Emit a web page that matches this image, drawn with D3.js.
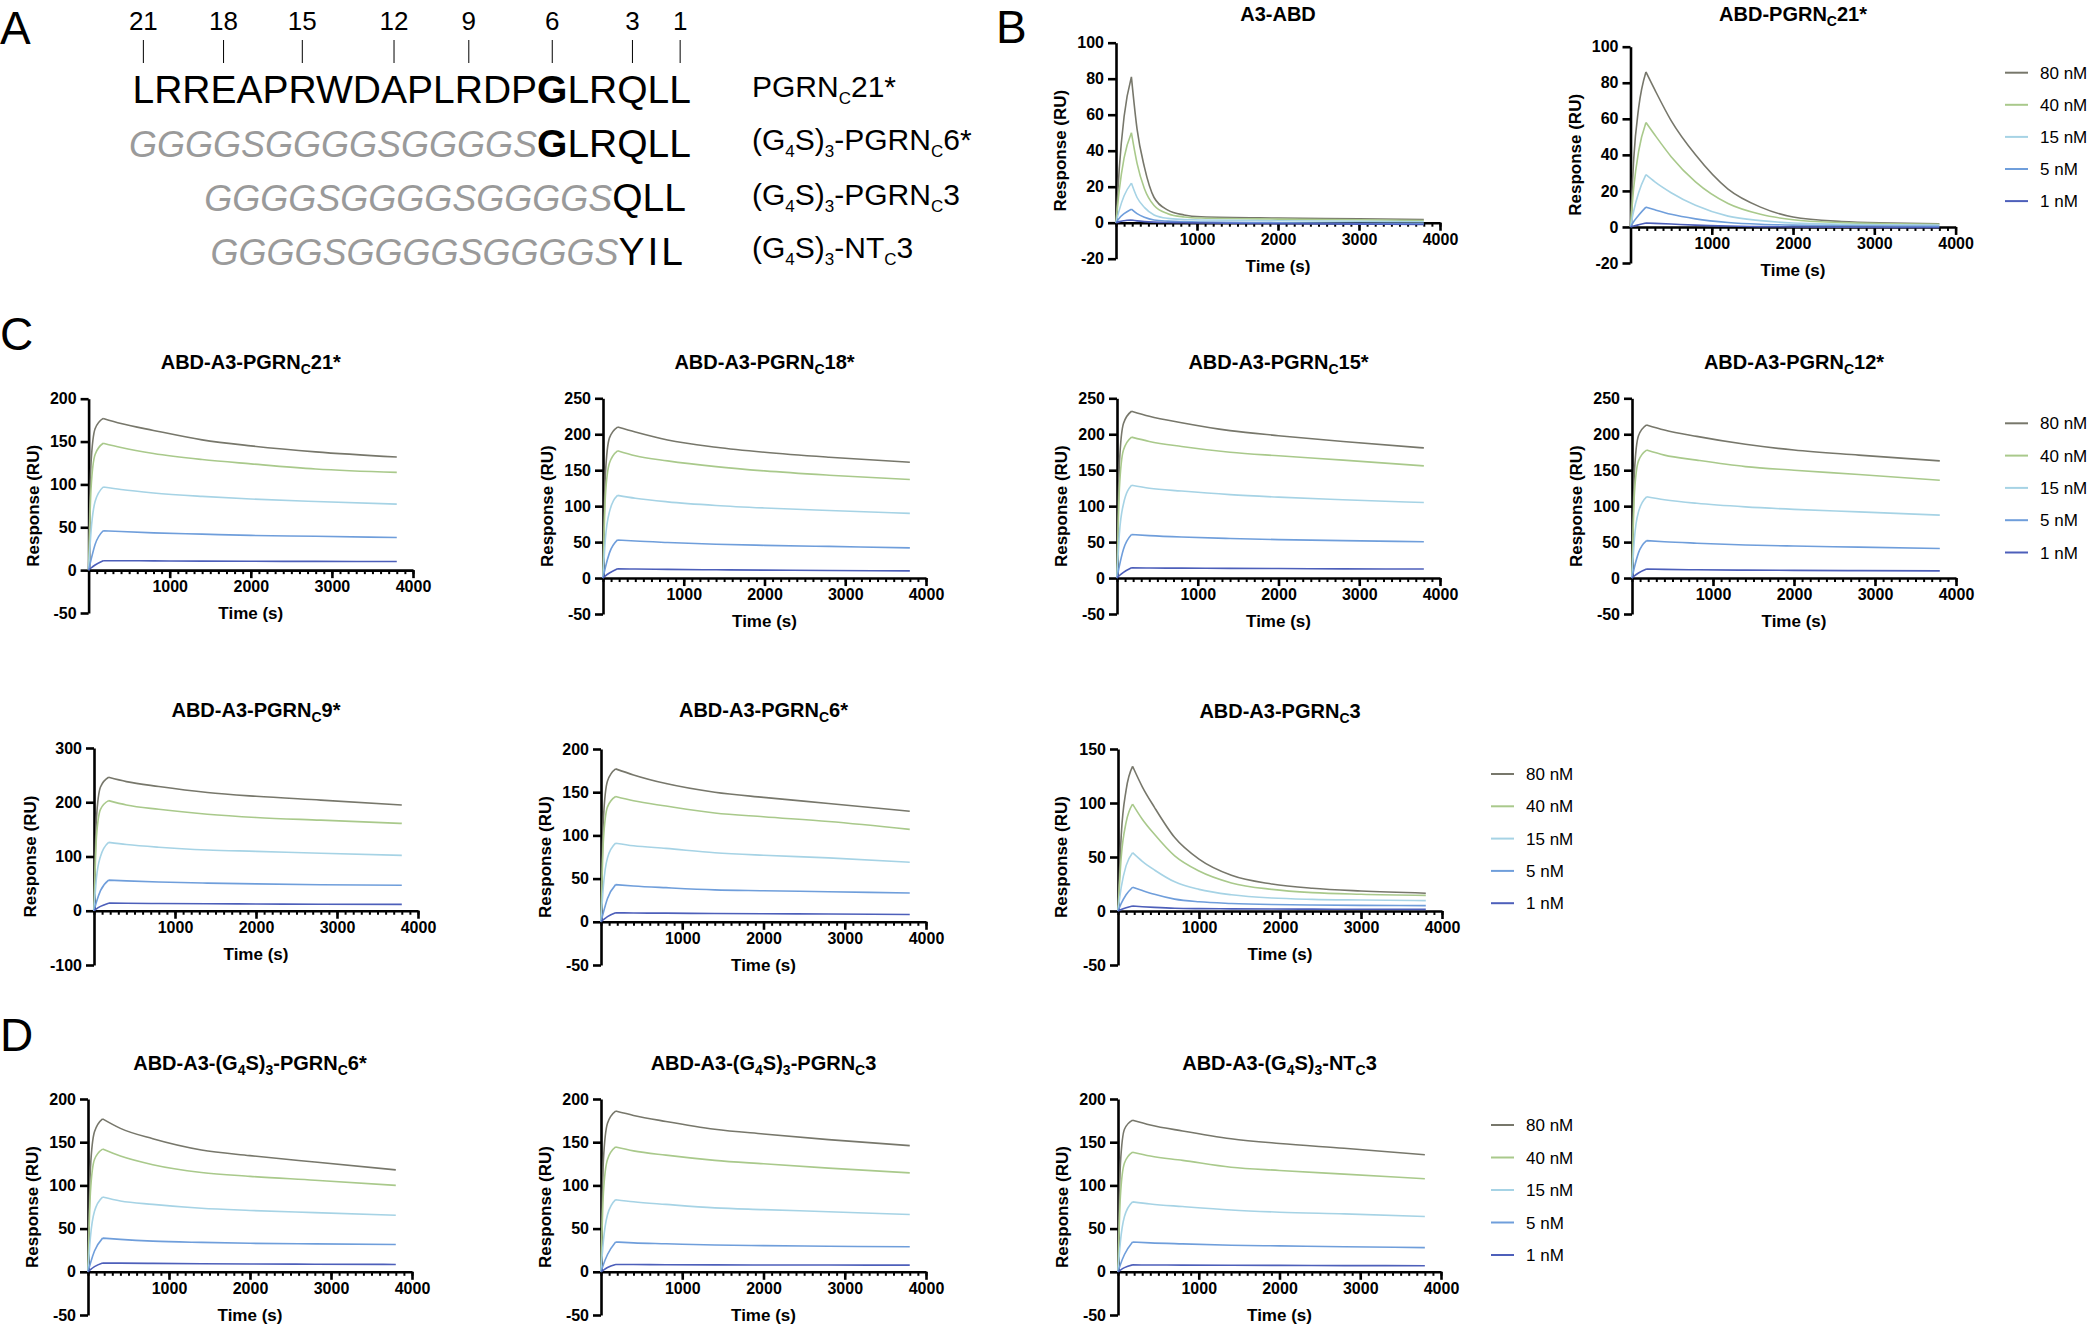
<!DOCTYPE html>
<html><head><meta charset="utf-8">
<script src="https://cdn.jsdelivr.net/npm/d3@7"></script>
<style>
body{margin:0;background:#fff}
svg{display:block}
text{font-family:"Liberation Sans",Arial,Helvetica,sans-serif}
</style>
</head><body>
<svg id="fig" width="2089" height="1326"></svg>
<script>
// ---------------- DATA ----------------
const concentrations = ["80 nM", "40 nM", "15 nM", "5 nM", "1 nM"];

// panel A
const residueNumbers = [21, 18, 15, 12, 9, 6, 3, 1];
const seqRow1 = [["LRREAPRWDAPLRDP", "n"], ["G", "b"], ["LRQLL", "n"]];
const seqRow2 = [["GGGGSGGGGSGGGGS", "g"], ["G", "b"], ["LRQLL", "n"]];
const seqRow3 = [["GGGGSGGGGSGGGGS", "g"], ["QLL", "n"]];
const seqRow4 = [["GGGGSGGGGSGGGGS", "g"], ["YIL", "y"]];
const seqLabel1 = [["PGRN", 0], ["C", 1], ["21*", 0]];
const seqLabel2 = [["(G", 0], ["4", 1], ["S)", 0], ["3", 1], ["-PGRN", 0], ["C", 1], ["6*", 0]];
const seqLabel3 = [["(G", 0], ["4", 1], ["S)", 0], ["3", 1], ["-PGRN", 0], ["C", 1], ["3", 0]];
const seqLabel4 = [["(G", 0], ["4", 1], ["S)", 0], ["3", 1], ["-NT", 0], ["C", 1], ["3", 0]];

// time grids (s)
const timesB1 = [0, 40, 100, 190, 260, 350, 470, 640, 840, 1050, 2000, 3000, 3800];
const timesB2 = [0, 40, 100, 190, 300, 500, 800, 1200, 1600, 2000, 2600, 3200, 3800];
const timesC7 = [0, 40, 100, 180, 300, 450, 700, 1000, 1400, 1900, 2400, 3000, 3800];
const timesSlow = [0, 30, 80, 180, 400, 800, 1400, 2000, 2800, 3800];

// responses (RU), rows = 80, 40, 15, 5, 1 nM
const respA3ABD = [
  [0, 30, 59, 81, 52, 31, 14, 7, 4.3, 3.3, 2.6, 2.2, 1.8],
  [0, 18, 36, 50, 33, 19, 9.5, 5, 3.2, 2.6, 2, 1.6, 1.2],
  [0, 7, 15, 22, 14, 8.5, 4.3, 2.4, 1.8, 1.5, 1.1, 0.8, 0.5],
  [0, 2.5, 5, 7.5, 5, 3, 1.5, 0.9, 0.6, 0.4, 0, -0.3, -0.5],
  [0, 0.6, 1.1, 1.5, 1, 0.6, 0.3, 0.1, 0, -0.2, -0.5, -0.8, -1]
];
const respABD_PGRN21 = [
  [0, 38, 66, 86, 76, 59, 40, 21, 11, 5.5, 3, 2.2, 1.8],
  [0, 22, 42, 58, 51, 39, 25, 13, 7, 4, 2.4, 1.8, 1.5],
  [0, 9, 19, 29, 25, 19, 12, 6, 3.5, 2.2, 1.5, 1.2, 1],
  [0, 3, 6.5, 11, 9.5, 7, 4.5, 2.5, 1.5, 1, 0.7, 0.5, 0.4],
  [0, 0.5, 1.2, 2.2, 2, 1.6, 1, 0.5, 0.2, 0, -0.2, -0.3, -0.3]
];
const respC21 = [
  [0, 125, 165, 177, 171, 163, 152, 145, 138, 132],
  [0, 95, 135, 148, 143, 136, 129, 124, 118, 114],
  [0, 45, 80, 97, 94, 90, 86, 83, 80, 77],
  [0, 12, 30, 46, 45, 43.5, 42, 40.5, 39.5, 38],
  [0, 2.5, 6, 11, 11, 10.8, 10.5, 10.3, 10.2, 10]
];
const respC18 = [
  [0, 145, 195, 210, 203, 192, 182, 175, 168, 161],
  [0, 115, 160, 177, 170, 163, 155, 149, 143, 137],
  [0, 55, 92, 115, 111, 106, 101, 97.5, 94, 90],
  [0, 15, 35, 53, 51.5, 49.5, 47, 45.5, 44, 42],
  [0, 3, 7, 13, 12.5, 12, 11.5, 11, 10.5, 10]
];
const respC15 = [
  [0, 160, 215, 232, 225, 216, 205, 198, 190, 181],
  [0, 125, 178, 196, 190, 183, 175, 170, 164, 156],
  [0, 62, 103, 129, 125, 121, 116, 112.5, 109, 105],
  [0, 17, 40, 60.5, 59, 57, 55, 53.5, 52, 50.5],
  [0, 3.5, 8, 14.4, 14, 13.8, 13.5, 13.2, 12.8, 12.5]
];
const respC12 = [
  [0, 148, 198, 213, 206, 197, 186, 178, 171, 163],
  [0, 118, 163, 178, 171, 164, 155, 150, 144, 136],
  [0, 55, 92, 113, 109, 104, 99, 95.5, 92, 87.5],
  [0, 15, 35, 52, 50.5, 48.5, 46, 44.5, 43, 41],
  [0, 3, 7, 12.5, 12, 11.5, 11, 10.7, 10.3, 10]
];
const respC9 = [
  [0, 170, 228, 246, 238, 229, 218, 211, 204, 195],
  [0, 135, 187, 203, 195, 187, 178, 172, 167, 161],
  [0, 60, 100, 126, 122, 117, 112, 109.5, 106, 102],
  [0, 16, 37, 56.5, 55, 53, 51, 49.5, 48, 47],
  [0, 3.5, 8, 14, 13.7, 13.3, 12.8, 12.5, 12, 11.7]
];
const respC6 = [
  [0, 120, 163, 177, 170, 160, 150, 144, 137, 128],
  [0, 95, 133, 145, 140, 134, 126, 121.5, 116, 107],
  [0, 42, 74, 91, 88, 85, 80, 77, 74, 69],
  [0, 11, 27, 43, 41.5, 39.5, 37, 36, 34.8, 33.3],
  [0, 2.5, 6, 10.4, 10.2, 10, 9.6, 9.3, 9, 8.5]
];
const respC3 = [
  [0, 70, 112, 134, 115, 96, 68, 48, 33, 25, 21, 18.5, 16.5],
  [0, 50, 82, 99, 85, 71, 51, 37, 26, 20, 17, 15.5, 14.5],
  [0, 22, 42, 54, 46, 38, 27, 20, 15, 12, 10.8, 10.2, 9.6],
  [0, 7, 15, 22, 19, 15.5, 11, 8.5, 7, 6, 5.5, 5.2, 5],
  [0, 1.3, 3, 4.6, 4, 3.4, 2.6, 2.2, 2, 1.8, 1.7, 1.6, 1.5]
];
const respD6 = [
  [0, 120, 162, 177, 166, 154, 141, 134.5, 127, 118],
  [0, 92, 130, 142, 134, 124, 115, 110.5, 106, 100],
  [0, 40, 70, 86.5, 82, 78, 73.5, 71, 68.5, 65.5],
  [0, 10, 24, 39, 37.5, 35.5, 34, 33, 32.3, 31.6],
  [0, 2.5, 6, 10.2, 10, 9.7, 9.3, 9, 8.8, 8.5]
];
const respD3 = [
  [0, 130, 172, 186, 181, 174, 165, 159.5, 153, 146],
  [0, 92, 130, 144.5, 140, 135, 129, 125, 120, 114.5],
  [0, 36, 66, 83.5, 81, 78, 74, 72, 69.5, 66.3],
  [0, 8.5, 20, 34.5, 33.5, 32.5, 31, 30.3, 29.6, 29],
  [0, 2, 5, 8.5, 8.4, 8.2, 8, 7.9, 7.8, 7.7]
];
const respDNT3 = [
  [0, 125, 165, 175.5, 170, 163, 154, 148.5, 143, 135.5],
  [0, 88, 126, 138.5, 134, 129, 121, 117.3, 113, 107.7],
  [0, 35, 64, 81, 78.5, 75.5, 71.5, 69, 67, 64],
  [0, 8.5, 20, 34.5, 33.5, 32.3, 30.8, 30, 29, 28],
  [0, 2, 4.8, 8, 7.9, 7.7, 7.5, 7.4, 7.2, 7]
];

// titles
const titleB1 = [["A3-ABD", 0]];
const titleB2 = [["ABD-PGRN", 0], ["C", 1], ["21*", 0]];
const titleC21 = [["ABD-A3-PGRN", 0], ["C", 1], ["21*", 0]];
const titleC18 = [["ABD-A3-PGRN", 0], ["C", 1], ["18*", 0]];
const titleC15 = [["ABD-A3-PGRN", 0], ["C", 1], ["15*", 0]];
const titleC12 = [["ABD-A3-PGRN", 0], ["C", 1], ["12*", 0]];
const titleC9 = [["ABD-A3-PGRN", 0], ["C", 1], ["9*", 0]];
const titleC6 = [["ABD-A3-PGRN", 0], ["C", 1], ["6*", 0]];
const titleC3 = [["ABD-A3-PGRN", 0], ["C", 1], ["3", 0]];
const titleD6 = [["ABD-A3-(G", 0], ["4", 1], ["S)", 0], ["3", 1], ["-PGRN", 0], ["C", 1], ["6*", 0]];
const titleD3 = [["ABD-A3-(G", 0], ["4", 1], ["S)", 0], ["3", 1], ["-PGRN", 0], ["C", 1], ["3", 0]];
const titleDNT = [["ABD-A3-(G", 0], ["4", 1], ["S)", 0], ["3", 1], ["-NT", 0], ["C", 1], ["3", 0]];

// ---------------- STYLE / LAYOUT ----------------
const colors = ["#77776b", "#a9c98b", "#a6d3e5", "#6f9edb", "#4d5fba"];
const FONT = '"Liberation Sans",Arial,Helvetica,sans-serif';
const svg = d3.select("#fig");

function richText(sel, parts, subSize, subDy) {
  let inSub = false;
  parts.forEach(([txt, sub]) => {
    const ts = sel.append("tspan").text(txt);
    if (sub && !inSub) { ts.attr("dy", subDy).attr("font-size", subSize); inSub = true; }
    else if (sub && inSub) { ts.attr("font-size", subSize); }
    else if (!sub && inSub) { ts.attr("dy", -subDy); inSub = false; }
  });
}

// panel letters
[["A", 0, 44], ["B", 996, 43], ["C", 0, 350], ["D", 0, 1051]].forEach(([l, x, y]) => {
  svg.append("text").attr("x", x).attr("y", y).attr("font-size", 46).attr("fill", "#000").text(l);
});

// ---------------- PANEL A ----------------
const seqRows = [seqRow1, seqRow2, seqRow3, seqRow4];
const seqLabels = [seqLabel1, seqLabel2, seqLabel3, seqLabel4];
const seqBase = [103, 157, 211, 265];
const seqEnd = [691, 691, 686, 686];
const labBase = [97, 150, 205, 258];
let row1Text = null;
seqRows.forEach((row, i) => {
  const t = svg.append("text").attr("x", seqEnd[i]).attr("y", seqBase[i])
    .attr("text-anchor", "end").attr("font-size", 39).attr("fill", "#000");
  row.forEach(([s, kind]) => {
    const ts = t.append("tspan").text(s);
    if (kind === "g") ts.attr("fill", "#9a9a9a").attr("font-style", "italic").attr("font-size", 36);
    if (kind === "b") ts.attr("font-weight", "bold");
    if (kind === "y") ts.attr("letter-spacing", 3);
  });
  if (i === 0) row1Text = t;
  const lt = svg.append("text").attr("x", 752).attr("y", labBase[i]).attr("font-size", 30).attr("fill", "#000");
  richText(lt, seqLabels[i], 17, 7);
});
const row1Node = row1Text.node();
residueNumbers.forEach(n => {
  const idx = 21 - n;
  const ext = row1Node.getExtentOfChar(idx);
  const cx = ext.x + ext.width / 2;
  svg.append("text").attr("x", cx).attr("y", 30).attr("text-anchor", "middle")
    .attr("font-size", 26).attr("fill", "#000").text(n);
  svg.append("line").attr("x1", cx).attr("x2", cx).attr("y1", 40).attr("y2", 63)
    .attr("stroke", "#000").attr("stroke-width", 1);
});

// ---------------- SENSORGRAM PANELS ----------------
const panels = [
  { resp: respA3ABD, t: timesB1, title: titleB1, xL: 1116, xR: 1440, yTop: 42.7, yBot: 258.7, yMin: -20, yMax: 100, step: 20, titleY: 21, ylab: 56 },
  { resp: respABD_PGRN21, t: timesB2, title: titleB2, xL: 1630.5, xR: 1955.6, yTop: 46.7, yBot: 263, yMin: -20, yMax: 100, step: 20, titleY: 21, ylab: 56, legend: [2005, 72.7, 32.1] },
  { resp: respC21, t: timesSlow, title: titleC21, xL: 88.6, xR: 413, yTop: 398.7, yBot: 613, yMin: -50, yMax: 200, step: 50, titleY: 369, ylab: 56 },
  { resp: respC18, t: timesSlow, title: titleC18, xL: 603, xR: 926, yTop: 398.3, yBot: 614, yMin: -50, yMax: 250, step: 50, titleY: 369, ylab: 56 },
  { resp: respC15, t: timesSlow, title: titleC15, xL: 1117, xR: 1440, yTop: 398.3, yBot: 614, yMin: -50, yMax: 250, step: 50, titleY: 369, ylab: 56 },
  { resp: respC12, t: timesSlow, title: titleC12, xL: 1632, xR: 1956, yTop: 398.3, yBot: 614, yMin: -50, yMax: 250, step: 50, titleY: 369, ylab: 56, legend: [2005, 423.3, 32.3] },
  { resp: respC9, t: timesSlow, title: titleC9, xL: 94, xR: 418, yTop: 748, yBot: 965, yMin: -100, yMax: 300, step: 100, titleY: 717, ylab: 64 },
  { resp: respC6, t: timesSlow, title: titleC6, xL: 601, xR: 926, yTop: 749, yBot: 965, yMin: -50, yMax: 200, step: 50, titleY: 717, ylab: 56 },
  { resp: respC3, t: timesC7, title: titleC3, xL: 1118, xR: 1442, yTop: 749, yBot: 965, yMin: -50, yMax: 150, step: 50, titleY: 718, ylab: 57, legend: [1491, 774, 32.3] },
  { resp: respD6, t: timesSlow, title: titleD6, xL: 88, xR: 412, yTop: 1099, yBot: 1315, yMin: -50, yMax: 200, step: 50, titleY: 1070, ylab: 56 },
  { resp: respD3, t: timesSlow, title: titleD3, xL: 601, xR: 926, yTop: 1099, yBot: 1315, yMin: -50, yMax: 200, step: 50, titleY: 1070, ylab: 56 },
  { resp: respDNT3, t: timesSlow, title: titleDNT, xL: 1118, xR: 1441, yTop: 1099, yBot: 1315, yMin: -50, yMax: 200, step: 50, titleY: 1070, ylab: 56, legend: [1491, 1125, 32.5] }
];

function styleAxis(g, sw) {
  g.attr("font-family", FONT).attr("font-size", 16).attr("font-weight", "bold");
  g.selectAll(".domain").attr("stroke", "#000").attr("stroke-width", sw);
  g.selectAll(".tick line").attr("stroke", "#000").attr("stroke-width", sw);
  g.selectAll(".tick text").attr("fill", "#000");
}

panels.forEach(p => {
  const g = svg.append("g");
  const x = d3.scaleLinear().domain([0, 4000]).range([p.xL, p.xR]);
  const y = d3.scaleLinear().domain([p.yMin, p.yMax]).range([p.yBot, p.yTop]);
  const y0 = y(0);

  // y axis
  const yTicks = d3.range(p.yMin, p.yMax + 0.001, p.step);
  const ya = g.append("g").attr("transform", `translate(${p.xL},0)`)
    .call(d3.axisLeft(y).tickValues(yTicks).tickSize(8).tickSizeOuter(0).tickPadding(4).tickFormat(d => String(d)));
  styleAxis(ya, 2.6);

  // x axis minor ticks
  const xm = g.append("g").attr("transform", `translate(0,${y0})`)
    .call(d3.axisBottom(x).tickValues(d3.range(0, 4001, 100)).tickSize(4).tickSizeOuter(0).tickFormat(""));
  styleAxis(xm, 2);
  xm.select(".domain").remove();
  // x axis major
  const xa = g.append("g").attr("transform", `translate(0,${y0})`)
    .call(d3.axisBottom(x).tickValues([1000, 2000, 3000, 4000]).tickSize(8).tickSizeOuter(0).tickPadding(3).tickFormat(d => String(d)));
  styleAxis(xa, 2.6);

  // curves
  const line = d3.line().x(d => x(d[0])).y(d => y(d[1])).curve(d3.curveMonotoneX);
  p.resp.forEach((vals, i) => {
    const pts = p.t.map((t, j) => [t, vals[j]]);
    g.append("path")
      .attr("d", line(pts.slice(0, 4)) + line(pts.slice(3)))
      .attr("fill", "none").attr("stroke", colors[i]).attr("stroke-width", 1.6)
      .attr("stroke-linejoin", "round");
  });

  // titles
  const cx = (p.xL + p.xR) / 2;
  const tt = g.append("text").attr("x", cx).attr("y", p.titleY).attr("text-anchor", "middle")
    .attr("font-size", 20).attr("font-weight", "bold").attr("fill", "#000");
  richText(tt, p.title, 14, 5);

  g.append("text").attr("x", cx).attr("y", y0 + 49).attr("text-anchor", "middle")
    .attr("font-size", 17).attr("font-weight", "bold").attr("fill", "#000").text("Time (s)");

  const cy = (p.yTop + p.yBot) / 2;
  const lx = p.xL - p.ylab + 6;
  g.append("text").attr("transform", `translate(${lx},${cy}) rotate(-90)`).attr("text-anchor", "middle")
    .attr("font-size", 17).attr("font-weight", "bold").attr("fill", "#000").text("Response (RU)");

  // legend
  if (p.legend) {
    const [lgx, lgy, dy] = p.legend;
    concentrations.forEach((c, i) => {
      const yy = lgy + i * dy;
      g.append("line").attr("x1", lgx).attr("x2", lgx + 23).attr("y1", yy).attr("y2", yy)
        .attr("stroke", colors[i]).attr("stroke-width", 2);
      g.append("text").attr("x", lgx + 35).attr("y", yy + 6).attr("font-size", 17).attr("fill", "#000").text(c);
    });
  }
});
</script>
</body></html>
